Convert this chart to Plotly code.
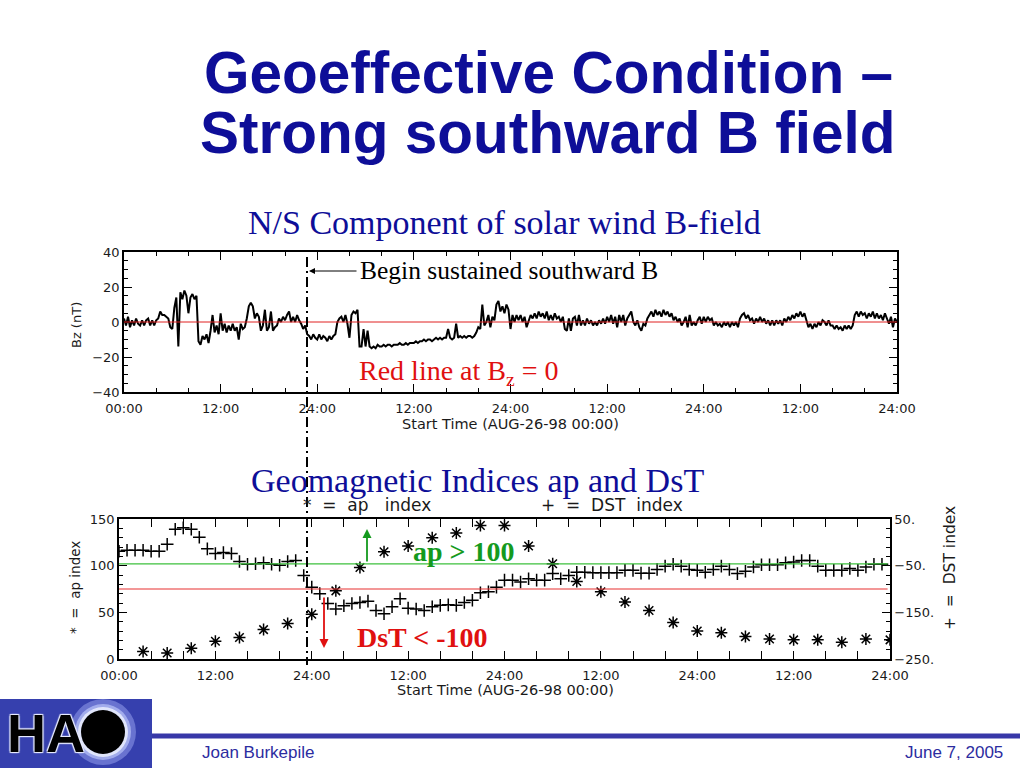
import plotly.graph_objects as go

# ---------------- data ----------------
TICK_HOURS = [0, 12, 24, 36, 48, 60, 72, 84, 96]
TICK_TEXT = ["00:00", "12:00", "24:00", "12:00", "24:00", "12:00", "24:00", "12:00", "24:00"]

# Bz (nT), four samples per hour, hours 0..95
BZ_ROWS = [
    [2, -2, 3, -3], [1, -2, 2, -1], [-2, 1, -2, 1], [2, -2, 1, -2],
    [1, 2, 6, 4], [4, 3, 2, -3], [-4, 8, 14, -14], [17, 13, 18, 15],
    [5, 14, 16, 13], [15, -11, -13, -8], [-10, -7, -12, -5], [4, -6, -2, -7],
    [5, -5, -1, -6], [-2, -5, -1, -5], [-3, -10, -1, -4], [-3, 2, 9, 11],
    [9, 2, 5, 3], [-5, -2, 7, -5], [-3, 6, -5, -3], [-2, 2, 0, 3],
    [1, 4, 6, 0], [3, 0, 4, 1], [-1, -4, -2, -7], [-8, -10, -7, -9],
    [-10, -7, -10, -8], [-9, -11, -8, -10], [-8, -7, 0, 2], [3, 0, 4, -1],
    [-9, 4, 6, 5], [7, -14, -14, -4], [-14, -5, -14, -15], [-14, -15, -13, -14],
    [-14, -13, -14, -13], [-13, -14, -13, -13], [-13, -12, -13, -13], [-12, -13, -12, -12],
    [-12, -11, -12, -11], [-11, -10, -11, -10], [-10, -11, -10, -9], [-10, -9, -10, -9],
    [-9, -4, -9, -10], [-9, -1, -9, -8], [-9, -8, -9, -8], [-8, -9, -8, -6],
    [-3, -4, 10, -2], [0, 4, -3, 3], [1, 10, 12, 6], [9, 5, 10, 7],
    [-4, 4, 0, 4], [1, 4, 0, 3], [-3, 0, 4, 2], [5, 2, 6, 3],
    [5, 2, 6, 1], [4, 1, 5, 2], [3, 0, 3, -4], [-5, 2, -5, 2],
    [3, -2, 4, -2], [1, -2, 2, -1], [1, -2, 0, -2], [1, -1, 2, -1],
    [3, 0, 4, -1], [3, -3, 4, 0], [4, -2, 2, 4], [6, 0, -2, 1],
    [-3, -5, -1, -2], [2, 4, 6, 3], [7, 4, 6, 3], [7, 4, 6, 3],
    [5, 1, 3, 0], [2, -2, 0, 3], [-3, 4, -2, 0], [-2, 1, 3, -1],
    [3, 0, 3, 1], [2, -2, 0, -2], [-1, -3, 0, -2], [0, -3, 0, -2],
    [0, -3, 2, 4], [5, 2, 4, 1], [2, -1, 2, 0], [3, 0, 2, -1],
    [1, -2, 1, -2], [1, -1, 1, -2], [2, 0, 3, 1], [4, 2, 5, 3],
    [6, 3, 5, 1], [-3, -1, -4, -1], [-3, 0, -2, 1], [0, -2, 1, -2],
    [-2, -4, -2, -4], [-3, -5, -2, -4], [-2, -4, -2, 4], [6, 3, 6, 4],
    [5, 2, 5, 3], [6, 2, 5, 2], [4, 1, 5, 2], [-1, 3, -3, 2],
]
BZ_SAMPLES_PER_HOUR = 4

# ap index, 3-hourly
AP_HOURS = [3, 6, 9, 12, 15, 18, 21, 24, 27, 30, 33, 36, 39, 42, 45, 48,
            51, 54, 57, 60, 63, 66, 69, 72, 75, 78, 81, 84, 87, 90, 93, 96]
AP = [8, 6.5, 11.5, 19, 23, 31.5, 38, 48, 73, 98, 115, 121, 130, 135, 143, 143,
      121, 102, 83, 72, 61, 52, 39, 30, 28, 24, 21.5, 20.5, 20.5, 18, 21.5, 20.5]

# Dst index, hourly, hours 0..95
DST = [-19, -17, -17, -17, -19, -19, -4, 28, 31, 28, 11, -14, -24, -22, -24, -41,
       -47, -46, -44, -47, -49, -41, -39, -71,
       -96, -110, -131, -143, -136, -131, -129, -126, -146, -153, -138, -121, -141, -143,
       -146, -138, -135, -134, -135, -129, -124, -108, -106, -96,
       -81, -81, -85, -78, -81, -81, -67, -78, -71, -64, -64, -65, -65, -65, -65, -60,
       -60, -66, -66, -58, -51, -47, -51, -58,
       -60, -64, -58, -51, -58, -67, -62, -53, -48, -48, -48, -44, -42, -39, -39, -51,
       -60, -60, -60, -56, -60, -53, -47, -47]

AP_THRESHOLD = 102      # green line (ap ~ 100)
DST_THRESHOLD = -100    # red line
BZ_ZERO = 0

# ---------------- derived ----------------
BZ = [v for row in BZ_ROWS for v in row] + [0]
BZ_T = [i / BZ_SAMPLES_PER_HOUR for i in range(len(BZ))]
DST_HOURS = list(range(len(DST)))

W, H = 1024, 768
def px(x):
    return x / W
def py(y):
    return 1 - y / H

TICKFONT = dict(family="DejaVu Sans", size=13, color="#1a1a1a")
NAVY = "#0e0e98"

fig = go.Figure()

fig.add_trace(go.Scatter(x=BZ_T, y=BZ, mode="lines", xaxis="x", yaxis="y",
                         line=dict(color="black", width=2), showlegend=False,
                         hoverinfo="skip"))
fig.add_trace(go.Scatter(x=AP_HOURS, y=AP, mode="markers", xaxis="x2", yaxis="y3",
                         marker=dict(symbol="asterisk-open", size=10, color="black",
                                     line=dict(color="black", width=1.5)),
                         showlegend=False))
fig.add_trace(go.Scatter(x=DST_HOURS, y=DST, mode="markers", xaxis="x2", yaxis="y4",
                         marker=dict(symbol="cross-thin-open", size=9, color="black",
                                     line=dict(color="black", width=1.5)),
                         showlegend=False))

common_x = dict(range=[0, 96], tickmode="array", tickvals=TICK_HOURS, ticktext=TICK_TEXT,
                ticks="inside", ticklen=8, tickwidth=1, tickcolor="black",
                minor=dict(ticks="inside", ticklen=4, dtick=4, tick0=0, tickcolor="black"),
                showline=True, linecolor="black", linewidth=1.5, mirror="allticks",
                showgrid=False, zeroline=False, tickfont=TICKFONT, ticklabelstandoff=4,
                automargin=False, fixedrange=True)
common_y = dict(ticks="inside", ticklen=8, tickcolor="black", showline=True,
                linecolor="black", linewidth=1.5, showgrid=False, zeroline=False,
                tickfont=TICKFONT, automargin=False, fixedrange=True)

fig.update_layout(
    template="none",
    width=W, height=H, margin=dict(l=0, r=0, t=0, b=0, pad=0, autoexpand=False),
    paper_bgcolor="white", plot_bgcolor="white", showlegend=False,
    xaxis=dict(domain=[px(124), px(897)], anchor="y", **common_x),
    yaxis=dict(domain=[py(392), py(252)], anchor="x", range=[-40, 40],
               tickmode="array", tickvals=[-40, -20, 0, 20, 40],
               ticktext=["−40", "−20", "0", "20", "40"],
               minor=dict(ticks="inside", ticklen=4, dtick=5, tick0=0, tickcolor="black"),
               mirror="allticks", **common_y),
    xaxis2=dict(domain=[px(119), px(890)], anchor="y3", **common_x),
    yaxis3=dict(domain=[py(659), py(519)], anchor="x2", range=[0, 150],
                tickmode="array", tickvals=[0, 50, 100, 150],
                minor=dict(ticks="inside", ticklen=4, dtick=10, tick0=0, tickcolor="black"),
                mirror=False, **common_y),
    yaxis4=dict(overlaying="y3", anchor="x2", side="right", range=[-250, 50],
                tickmode="array", tickvals=[50, -50, -150, -250],
                ticktext=["50.", "−50.", "−150.", "−250."],
                minor=dict(ticks="inside", ticklen=4, dtick=20, tick0=-250, tickcolor="black"),
                **common_y),
)

shapes = []
# red zero line on Bz panel
shapes.append(dict(type="line", xref="x", yref="y", x0=0, x1=96, y0=BZ_ZERO, y1=BZ_ZERO,
                   line=dict(color="#e02020", width=1)))
# thresholds on lower panel
shapes.append(dict(type="line", xref="x2", yref="y3", x0=0, x1=95.7, y0=AP_THRESHOLD,
                   y1=AP_THRESHOLD, line=dict(color="#3cc03c", width=1.2)))
shapes.append(dict(type="line", xref="x2", yref="y4", x0=0, x1=95.7, y0=DST_THRESHOLD,
                   y1=DST_THRESHOLD, line=dict(color="#e83030", width=1.2)))
# dash-dot vertical line across both panels
shapes.append(dict(type="line", xref="paper", yref="paper", x0=px(307), x1=px(307),
                   y0=py(257), y1=py(665), layer="above",
                   line=dict(color="black", width=2, dash="10px,4px,2px,4px")))
# footer line
shapes.append(dict(type="line", xref="paper", yref="paper", x0=px(150), x1=px(1020),
                   y0=py(736), y1=py(736), line=dict(color="#3838a8", width=5)))
# logo
shapes.append(dict(type="rect", xref="paper", yref="paper", x0=0, x1=px(152),
                   y0=py(768), y1=py(699), fillcolor="#3640ae", line=dict(width=0)))
for r, col in [(33, "rgba(140,150,230,0.6)"), (28, "rgba(200,210,255,0.6)"),
               (25, "rgba(240,244,255,0.8)")]:
    shapes.append(dict(type="circle", xref="paper", yref="paper",
                       x0=px(103 - r), x1=px(103 + r), y0=py(732 + r), y1=py(732 - r),
                       fillcolor=col, line=dict(width=0)))
shapes.append(dict(type="circle", xref="paper", yref="paper",
                   x0=px(103 - 22), x1=px(103 + 22), y0=py(732 + 22), y1=py(732 - 22),
                   fillcolor="black", line=dict(width=0)))
fig.update_layout(shapes=shapes)

ann = []
def text(x, y, s, size, color="black", family="Liberation Serif", xanchor="center",
         angle=0, shadow=None):
    f = dict(family=family, size=size, color=color)
    if shadow:
        f["shadow"] = shadow
    ann.append(dict(xref="paper", yref="paper", x=px(x), y=py(y), text=s, showarrow=False,
                    xanchor=xanchor, yanchor="middle", font=f, textangle=angle))

text(548, 72, "<b>Geoeffective Condition –</b>", 58.5, NAVY, "Liberation Sans")
text(548, 132, "<b>Strong southward B field</b>", 58.5, NAVY, "Liberation Sans")
text(504, 223, "N/S Component of solar wind B-field", 34, NAVY)
text(358, 270, "Begin sustained southward B", 25.5, "black", xanchor="left")
text(357, 373, "Red line at B<sub>z</sub> = 0", 28, "#e01010", xanchor="left")
text(77, 325, "Bz (nT)", 13, "#1a1a1a", "DejaVu Sans", angle=-90)
text(510, 424, "Start Time (AUG-26-98 00:00)", 14.5, "#1a1a1a", "DejaVu Sans")
text(477, 480, "Geomagnetic Indices ap and DsT", 34, NAVY)
text(367, 505, "*  =  ap   index", 17, "#1a1a1a", "DejaVu Sans")
text(612, 505, "+  =  DST  index", 17, "#1a1a1a", "DejaVu Sans")
text(75, 588, "*  =  ap index", 13.5, "#1a1a1a", "DejaVu Sans", angle=-90)
text(950, 568, "+  =  DST index", 15.5, "#1a1a1a", "DejaVu Sans", angle=-90)
text(505, 690, "Start Time (AUG-26-98 00:00)", 14.5, "#1a1a1a", "DejaVu Sans")
text(464, 551, "<b>ap > 100</b>", 28, "#149a1e")
text(422, 637, "<b>DsT < -100</b>", 28, "#e01010")
text(200, 752, "Joan Burkepile", 17, "#2c2ca0", "Liberation Sans", xanchor="left")
text(1005, 752, "June 7, 2005", 17, "#2c2ca0", "Liberation Sans", xanchor="right")
text(46, 733, "<b>HA</b>", 54, "black", "Liberation Sans",
     shadow="1px 1px 1px #e8ecff, -1px -1px 1px #e8ecff, 1px -1px 1px #e8ecff, -1px 1px 1px #e8ecff")

# arrows
ann.append(dict(xref="paper", yref="paper", x=px(309), y=py(271), ax=49, ay=0,
                axref="pixel", ayref="pixel", text="", showarrow=True, arrowhead=2,
                arrowsize=1.2, arrowwidth=1, arrowcolor="black"))
ann.append(dict(xref="paper", yref="paper", x=px(367), y=py(529), ax=0, ay=34,
                text="", showarrow=True, arrowhead=2, arrowsize=1, arrowwidth=1.8,
                arrowcolor="#149a1e"))
ann.append(dict(xref="paper", yref="paper", x=px(324), y=py(648), ax=0, ay=-52,
                text="", showarrow=True, arrowhead=2, arrowsize=1, arrowwidth=1.8,
                arrowcolor="#e01010"))
fig.update_layout(annotations=ann)

fig.write_html("out.html", config={"displayModeBar": False},
               post_script="document.body.style.margin='0';document.body.style.overflow='hidden';")
